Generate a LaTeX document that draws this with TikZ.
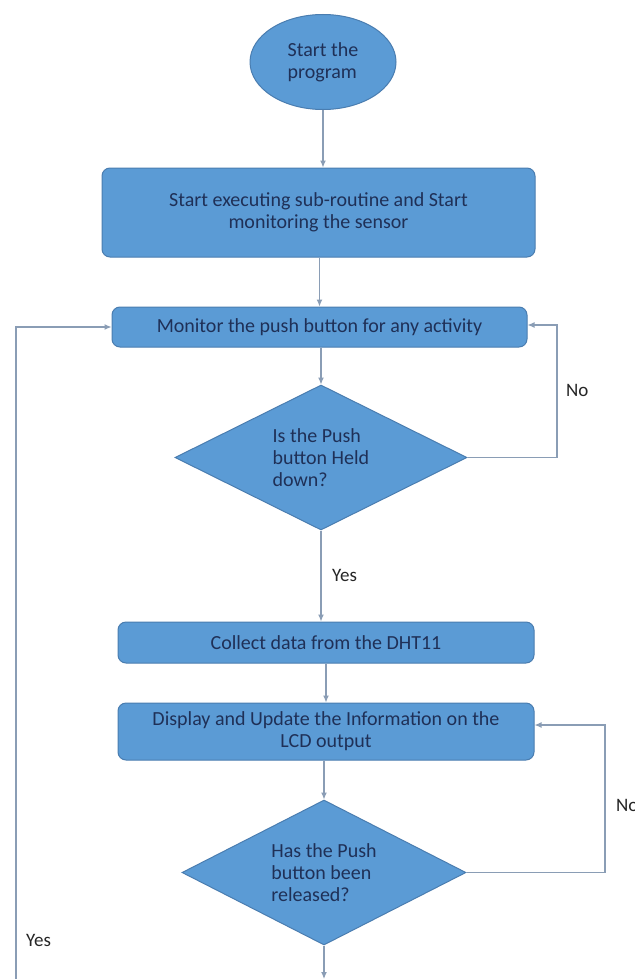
\documentclass[tikz,border=0pt]{standalone}
\usepackage{fontspec}
\setmainfont{Carlito}
\usetikzlibrary{shapes.geometric,arrows.meta}
\definecolor{boxfill}{HTML}{5B9BD5}
\definecolor{boxedge}{HTML}{4A7DB0}
\definecolor{boxtext}{HTML}{1F3057}
\definecolor{linecol}{HTML}{8A9DB5}
\definecolor{labcol}{HTML}{262626}
\begin{document}
\begin{tikzpicture}[x=1pt,y=-1pt,
  every node/.style={inner sep=2pt},
  txt/.style={text=boxtext,font=\fontsize{20}{22}\selectfont},
  proc/.style={txt,draw=boxedge,fill=boxfill,line width=1pt,rounded corners=8pt,align=center},
  term/.style={txt,draw=boxedge,fill=boxfill,line width=1pt,ellipse,align=left},
  decide/.style={txt,draw=boxedge,fill=boxfill,line width=1pt,diamond,aspect=2,inner sep=0pt,align=left},
  conn/.style={draw=linecol,line width=1.2pt,-{Latex[length=7pt,width=6pt]}},
  lab/.style={text=labcol,font=\fontsize{19}{21}\selectfont,anchor=west}]
\useasboundingbox (0,0) rectangle (634,979);
\fill[white] (0,0) rectangle (634,979);

\node[term,minimum width=146pt,minimum height=95pt] (start) at (323,62) {Start the\\program};
\node[proc,minimum width=433pt,minimum height=89pt] (sub) at (318.5,212.5) {Start executing sub-routine and Start\\monitoring the sensor};
\node[proc,minimum width=415pt,minimum height=40pt] (mon) at (319.5,327) {Monitor the push button for any activity};
\node[decide,minimum width=292pt,minimum height=145pt] (held) at (321,457.5) {Is the Push\\button Held\\down?};
\node[proc,minimum width=416pt,minimum height=41pt] (collect) at (326,642.5) {Collect data from the DHT11};
\node[proc,minimum width=416pt,minimum height=57pt] (disp) at (326,731.5) {Display and Update the Information on the\\LCD output};
\node[decide,minimum width=284pt,minimum height=145pt] (rel) at (324,872.5) {Has the Push\\button been\\released?};

\coordinate (r1) at (557,325);
\coordinate (r2) at (605,725);
\coordinate (lb) at (16,985);
\coordinate (bot) at (324,979);

\draw[conn] (start.south) -- (start.south |- sub.north);
\draw[conn] (sub.south -| mon.north) -- (mon.north);
\draw[conn] (mon.south -| held.north) -- (held.north);
\draw[conn] (held.south) -- (held.south |- collect.north);
\draw[conn] (collect.south) -- (disp.north);
\draw[conn] (disp.south -| rel.north) -- (rel.north);
\draw[conn] (rel.south) -- (bot);
\draw[conn] (held.east) -| (r1) -- (mon.east |- r1);
\draw[conn] (rel.east) -| (r2) -- (disp.east |- r2);
\draw[conn] (lb) |- (mon.west);

\node[lab] (no1) at (564,390) {No};
\node[lab] (yes1) at (330,575) {Yes};
\node[lab] (no2) at (614,805) {No};
\node[lab] (yes2) at (24,940) {Yes};
\end{tikzpicture}
\end{document}
